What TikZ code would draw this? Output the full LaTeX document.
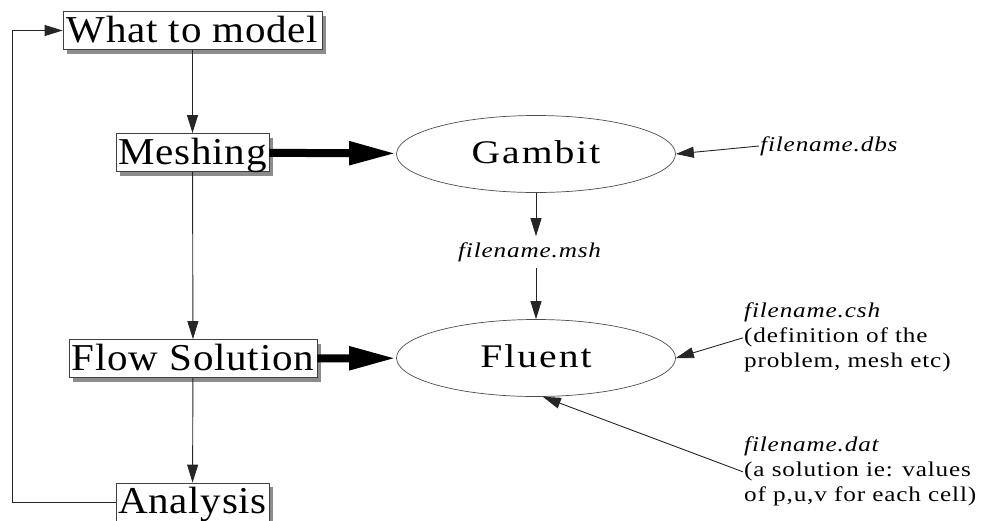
\documentclass[tikz,border=0pt]{standalone}
\usepackage{fontspec}
\setmainfont{Liberation Serif}
\newfontfamily\stagefont{Liberation Serif}[FakeStretch=1.08, LetterSpace=2]
\newfontfamily\toolfont{Liberation Serif}[FakeStretch=1.2, LetterSpace=6]
\newfontfamily\notefont{Liberation Serif}[FakeStretch=1.2, LetterSpace=4]
\usetikzlibrary{arrows.meta,shapes.geometric,shadows}

\tikzstyle{stage} = [draw=black!75, fill=white, rectangle, line width=0.8pt,
    minimum height=38pt, inner sep=0pt, text height=27pt, text depth=4pt,
    drop shadow={shadow xshift=4pt, shadow yshift=-4pt, fill=black!45, opacity=1},
    font=\stagefont\fontsize{38}{40}\selectfont]
\tikzstyle{tool} = [draw=black!70, ellipse, line width=0.7pt, minimum width=279pt,
    minimum height=77pt, inner sep=0pt, text height=22pt, text depth=4pt,
    font=\toolfont\fontsize{33}{36}\selectfont]
\tikzstyle{note} = [align=left, inner sep=1pt, font=\notefont\fontsize{21}{25}\selectfont]
\tikzstyle{thin} = [draw=black!85, line width=0.9pt, -{Triangle[length=18pt,width=11pt]}]
\tikzstyle{thick} = [draw=black, line width=8pt, -{Triangle[length=47pt,width=22pt]}]

\begin{document}
\begin{tikzpicture}[x=1pt,y=-1pt]
      \useasboundingbox (0,0) rectangle (992,520);
      \clip (0,0) rectangle (992,520);

      % left column
      \node [stage, minimum width=259pt] (model) at (192.5,30.5) {What to model};
      \node [stage, minimum width=153pt] (mesh) at (192.5,152.5) {Meshing};
      \node [stage, minimum width=248pt] (flow) at (193,358.5) {Flow Solution};
      \node [stage, minimum width=153pt] (analysis) at (192.5,502) {Analysis};
      \coordinate (loop) at (12,502);

      % programs
      \node [tool] (gambit) at (536,154) {Gambit};
      \node [tool] (fluent) at (536,358) {Fluent};

      % files
      \node [note, anchor=west] (dbs) at (759,146) {\textit{filename.dbs}};
      \node [note, inner ysep=6pt] (msh) at (530,252) {\textit{filename.msh}};
      \node [note, anchor=north west] (csh) at (743,302)
            {\textit{filename.csh}\\(definition of the\\problem, mesh etc)};
      \node [note, anchor=north west] (dat) at (743,436)
            {\textit{filename.dat}\\(a solution ie: values\\of p,u,v for each cell)};

      \draw [thin] (model) -- (mesh);
      \draw [thin] (mesh) -- (flow);
      \draw [thin] (flow) -- (analysis);
      \draw [thin] (analysis.west) -- (loop) |- (model.west);

      \draw [thick] (mesh) -- (gambit);
      \draw [thick] (flow) -- (fluent);

      \draw [thin] (dbs.west) -- (gambit.east);
      \draw [thin] (gambit.south) -- (gambit.south |- msh.north);
      \draw [thin] (gambit.south |- msh.south) -- (fluent.north);
      \draw [thin] (csh.west) -- (fluent.east);
      \draw [thin] (dat.west) -- (fluent.-80);
    \end{tikzpicture}
\end{document}
